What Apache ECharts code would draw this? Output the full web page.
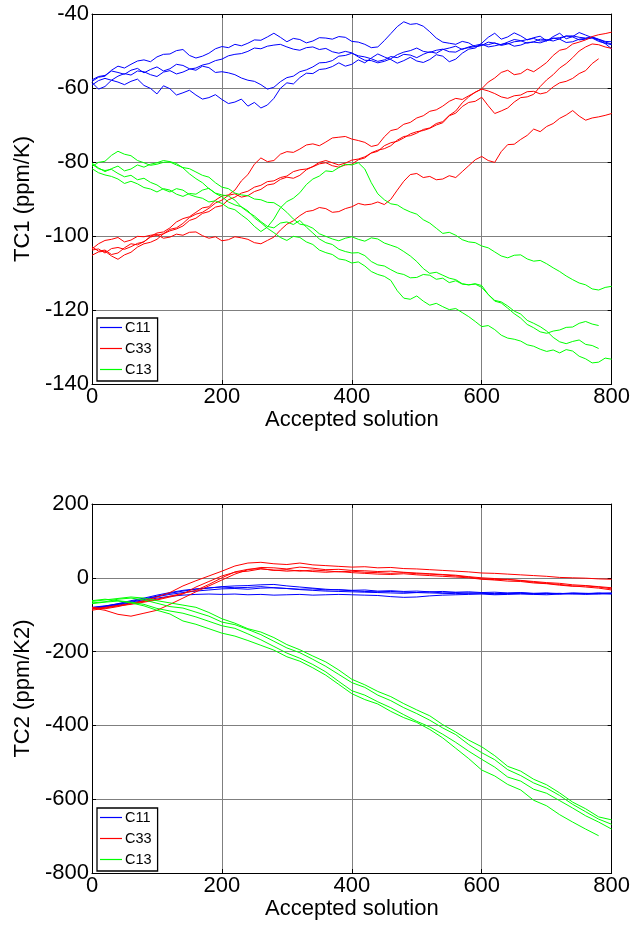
<!DOCTYPE html>
<html><head><meta charset="utf-8">
<script src="https://cdn.jsdelivr.net/npm/echarts@6/dist/echarts.min.js"></script>
<style>html,body{margin:0;padding:0;background:#fff}#c{width:633px;height:926px}</style>
</head><body><div id="c"></div>
<script>
// x positions (accepted solution index)
const xs10 = [0,10,20,30,40,50,60,70,80,90,100,110,120,130,140,150,160,170,180,190,200,210,220,230,240,250,260,270,280,290,300,310,320,330,340,350,360,370,380,390,400,410,420,430,440,450,460,470,480,490,500,510,520,530,540,550,560,570,580,590,600,610,620,630,640,650,660,670,680,690,700,710,720,730,740,750,760,770,780,790,800];
const xs20 = [0,20,40,60,80,100,120,140,160,180,200,220,240,260,280,300,320,340,360,380,400,420,440,460,480,500,520,540,560,580,600,620,640,660,680,700,720,740,760,780,800];
const xTicks = [0,200,400,600,800];
const legendNames = ['C11','C33','C13'];

// Top panel: TC1 (ppm/K), sampled every 10 solutions
const tB1 = [-58.5,-60.3,-59.6,-57.9,-58.4,-59.1,-58.2,-57.6,-59.3,-60.1,-61.6,-59.4,-60.2,-61.9,-61.3,-60.6,-61.9,-63.0,-62.6,-61.8,-63.1,-64.2,-63.8,-63.0,-64.9,-63.9,-65.4,-64.6,-62.8,-60.1,-58.6,-58.9,-57.2,-56.0,-56.1,-55.0,-54.8,-54.2,-53.2,-54.1,-53.6,-52.4,-53.2,-51.9,-50.8,-51.6,-52.3,-53.3,-52.6,-51.7,-52.7,-53.1,-52.3,-51.0,-51.4,-52.9,-52.2,-50.6,-49.5,-49.2,-47.9,-46.3,-45.2,-46.8,-46.2,-45.1,-45.9,-47.0,-46.4,-46.0,-47.3,-46.1,-45.2,-46.7,-46.1,-45.0,-45.7,-46.4,-47.1,-48.0,-49.4];
const tB2 = [-57.8,-56.9,-56.6,-55.4,-55.8,-56.3,-55.2,-54.7,-55.9,-55.0,-54.3,-55.4,-54.8,-53.6,-53.9,-54.8,-55.2,-54.1,-54.5,-55.8,-55.6,-55.9,-56.4,-57.3,-57.9,-58.2,-59.1,-60.3,-59.8,-58.3,-57.2,-56.8,-55.6,-55.1,-54.3,-53.2,-53.1,-52.6,-51.4,-51.2,-50.6,-51.3,-51.6,-52.1,-52.8,-52.4,-51.5,-51.8,-50.9,-51.1,-51.8,-50.9,-50.2,-50.6,-49.6,-49.2,-48.7,-49.6,-48.9,-48.5,-48.1,-48.9,-48.6,-48.2,-47.9,-48.7,-48.4,-47.7,-47.6,-47.8,-47.2,-46.5,-46.8,-47.7,-47.5,-46.8,-46.6,-46.3,-46.9,-47.6,-48.1];
const tB3 = [-58.2,-57.1,-56.8,-55.2,-54.1,-54.6,-53.6,-52.7,-52.4,-52.9,-51.6,-50.9,-50.8,-49.9,-49.6,-51.2,-51.9,-51.4,-50.6,-49.4,-48.8,-49.1,-48.2,-48.6,-47.9,-47.0,-47.1,-46.2,-45.2,-46.3,-47.5,-46.6,-46.9,-47.8,-47.3,-46.4,-46.5,-46.8,-46.1,-46.3,-47.4,-47.6,-48.2,-49.1,-48.9,-47.2,-45.3,-43.4,-42.1,-42.8,-42.6,-43.3,-44.8,-46.5,-47.6,-47.9,-48.2,-47.4,-47.8,-48.9,-48.5,-47.6,-47.9,-48.3,-47.6,-46.9,-47.2,-47.9,-47.5,-46.8,-46.9,-47.3,-46.7,-45.9,-46.2,-47.0,-46.8,-46.5,-47.4,-47.9,-48.3];
const tB4 = [-59.2,-58.0,-57.4,-57.9,-56.8,-56.1,-56.5,-55.4,-55.6,-56.4,-56.9,-55.7,-55.3,-56.2,-55.7,-54.9,-54.6,-53.8,-53.4,-52.6,-52.2,-51.3,-50.9,-50.7,-50.1,-49.2,-49.4,-48.7,-48.4,-48.2,-48.9,-49.5,-49.8,-49.1,-48.9,-49.6,-49.3,-50.2,-50.6,-50.1,-50.5,-51.6,-52.5,-52.6,-53.2,-52.8,-52.1,-51.0,-50.3,-49.9,-49.2,-50.1,-50.4,-49.8,-49.5,-50.2,-50.3,-49.4,-49.1,-48.8,-48.4,-48.3,-47.8,-48.5,-48.1,-47.5,-47.3,-46.9,-46.6,-47.3,-47.2,-46.6,-46.4,-46.0,-45.9,-46.3,-46.5,-46.2,-46.8,-47.4,-47.5];
const tR1 = [-103.5,-102.1,-101.2,-100.9,-100.4,-101.6,-101.1,-100.1,-100.2,-99.8,-99.6,-100.6,-100.3,-99.5,-99.8,-99.0,-98.9,-99.9,-100.6,-100.2,-101.3,-101.0,-100.2,-100.5,-100.9,-101.8,-102.1,-101.2,-100.3,-98.4,-96.8,-95.9,-94.5,-93.4,-93.1,-92.3,-92.6,-93.6,-93.4,-92.6,-92.1,-91.2,-91.6,-91.4,-90.8,-91.5,-90.1,-87.6,-85.2,-83.4,-83.1,-84.2,-83.9,-84.8,-84.6,-83.7,-84.2,-82.6,-81.0,-79.4,-78.5,-79.6,-80.1,-77.2,-75.3,-75.2,-73.9,-72.8,-71.1,-71.8,-70.4,-69.6,-68.2,-67.3,-66.1,-67.6,-68.7,-68.1,-67.8,-67.4,-66.9];
const tR2 = [-103.8,-103.5,-104.6,-103.4,-103.1,-103.6,-102.9,-102.0,-101.6,-100.1,-99.2,-98.9,-97.8,-96.2,-95.3,-94.8,-93.6,-92.4,-92.1,-90.3,-89.2,-88.9,-87.6,-85.1,-83.4,-80.6,-78.9,-79.9,-79.6,-77.9,-77.2,-77.4,-76.5,-75.4,-75.1,-75.6,-74.6,-73.5,-73.3,-73.1,-73.8,-74.2,-74.7,-75.8,-75.4,-73.2,-71.5,-71.1,-69.8,-69.3,-68.1,-67.5,-66.3,-65.9,-64.9,-63.6,-62.8,-63.1,-62.1,-61.2,-60.2,-58.4,-57.3,-55.8,-55.2,-56.4,-56.1,-54.9,-55.6,-54.4,-53.1,-51.2,-49.8,-49.4,-48.1,-47.6,-47.0,-46.1,-45.6,-45.3,-44.9];
const tR3 = [-102.9,-104.1,-103.8,-105.0,-104.6,-103.2,-102.1,-102.4,-101.5,-100.3,-99.8,-99.4,-98.2,-97.8,-96.6,-95.0,-94.1,-93.6,-92.5,-91.1,-90.3,-89.0,-88.6,-89.5,-89.1,-88.0,-87.4,-86.2,-85.9,-84.7,-84.1,-84.4,-83.6,-82.1,-81.2,-80.1,-79.6,-80.2,-80.8,-80.3,-79.5,-79.2,-78.6,-77.6,-77.1,-75.6,-74.8,-74.4,-73.5,-72.4,-71.8,-71.5,-70.9,-70.0,-69.4,-67.5,-66.8,-65.0,-63.9,-63.6,-62.5,-64.8,-66.9,-66.2,-65.4,-63.8,-62.6,-62.4,-61.7,-59.6,-57.8,-56.4,-54.6,-53.4,-51.8,-50.0,-48.9,-48.1,-48.3,-48.9,-49.3];
const tR4 = [-105.2,-104.3,-104.1,-105.4,-106.3,-105.1,-104.4,-103.0,-102.1,-101.7,-100.9,-99.4,-98.6,-98.1,-97.3,-95.8,-95.2,-93.9,-93.4,-92.2,-91.8,-90.2,-89.5,-88.4,-87.9,-86.8,-86.3,-85.3,-85.1,-84.2,-83.8,-82.6,-82.1,-81.9,-81.3,-80.5,-80.2,-81.0,-81.4,-80.8,-80.6,-79.4,-78.9,-77.5,-76.8,-76.4,-75.6,-74.1,-73.1,-72.9,-72.2,-71.2,-70.8,-69.6,-69.1,-67.4,-66.2,-64.0,-62.4,-61.1,-60.3,-60.8,-61.5,-62.4,-62.8,-62.1,-61.9,-61.0,-60.9,-61.6,-61.2,-59.7,-58.6,-58.2,-57.4,-56.1,-55.3,-53.4,-52.1,null,null];
const tG1 = [-81.2,-80.1,-79.8,-78.2,-77.1,-77.9,-78.3,-79.6,-80.2,-80.9,-80.6,-80.1,-80.0,-80.8,-81.5,-81.8,-82.7,-83.6,-84.1,-85.6,-86.8,-87.2,-88.4,-88.9,-89.1,-90.0,-90.2,-90.9,-91.0,-92.1,-93.6,-95.4,-96.8,-97.1,-97.9,-99.4,-100.1,-100.8,-101.3,-100.6,-100.2,-100.9,-101.4,-100.5,-100.8,-101.9,-102.5,-103.1,-104.2,-105.4,-106.9,-108.8,-110.1,-109.8,-110.6,-111.4,-111.8,-112.9,-113.2,-113.0,-113.9,-115.8,-117.6,-118.1,-119.5,-121.0,-122.2,-123.9,-124.8,-125.9,-126.3,-125.7,-125.4,-124.7,-124.6,-123.6,-123.1,-123.8,-124.2,null,null];
const tG2 = [-80.6,-81.8,-82.3,-82.0,-83.1,-84.0,-83.6,-84.8,-84.4,-85.5,-86.2,-87.4,-88.1,-87.2,-87.6,-88.8,-89.4,-89.8,-90.8,-90.5,-91.2,-92.4,-92.9,-94.3,-95.6,-97.4,-98.8,-97.6,-95.4,-92.4,-90.7,-89.8,-88.3,-86.1,-84.6,-83.8,-82.4,-82.6,-81.5,-80.6,-80.8,-80.2,-81.9,-85.6,-88.6,-90.2,-91.3,-91.6,-92.7,-93.5,-94.1,-95.6,-96.5,-97.9,-99.3,-99.0,-99.8,-101.0,-101.6,-101.8,-102.7,-103.2,-104.3,-105.4,-105.9,-105.2,-105.1,-106.2,-106.8,-106.6,-107.5,-108.6,-109.6,-110.8,-111.8,-112.7,-113.2,-114.3,-114.6,-113.9,-113.6];
const tG3 = [-80.3,-81.6,-82.6,-81.8,-81.1,-82.4,-81.9,-80.8,-81.4,-80.6,-80.2,-79.6,-79.9,-80.4,-81.6,-83.2,-84.5,-85.6,-87.2,-88.4,-88.9,-89.2,-90.3,-92.2,-93.5,-94.6,-96.1,-97.4,-97.8,-96.5,-96.2,-96.9,-95.8,-97.6,-99.2,-100.8,-101.8,-102.3,-103.6,-104.2,-104.6,-104.5,-105.3,-106.9,-107.8,-108.1,-109.1,-110.0,-110.4,-111.3,-111.2,-110.4,-110.6,-111.7,-111.4,-112.6,-112.1,-113.0,-113.2,-112.9,-113.4,-115.8,-117.4,-117.8,-118.9,-120.3,-121.1,-122.8,-123.6,-124.5,-125.7,-127.4,-128.6,-129.1,-128.5,-128.1,-129.3,-129.6,-130.4,null,null];
const tG4 = [-81.8,-82.9,-83.5,-83.9,-84.6,-85.8,-85.2,-85.9,-86.9,-87.3,-88.1,-87.2,-87.6,-88.7,-89.3,-88.5,-88.7,-87.6,-87.1,-88.5,-89.4,-90.8,-91.6,-92.1,-93.2,-95.1,-96.4,-97.9,-99.1,-100.4,-101.2,-100.1,-100.4,-101.6,-102.3,-103.8,-104.5,-105.0,-106.2,-106.5,-107.3,-107.0,-108.1,-109.6,-110.4,-110.9,-112.0,-114.8,-116.8,-117.1,-116.2,-117.6,-118.7,-118.2,-119.1,-119.9,-119.6,-120.7,-121.8,-123.1,-124.5,-124.2,-125.3,-126.8,-127.6,-127.9,-128.4,-129.4,-129.8,-130.6,-131.2,-130.8,-131.6,-130.7,-131.1,-132.5,-133.2,-134.3,-134.1,-133.0,-133.3];

// Bottom panel: TC2 (ppm/K2), sampled every 20 solutions
const bB1 = [-80,-76,-71,-64,-57,-50,-42,-36,-31,-28,-24,-22,-21,-19,-18,-22,-25,-28,-31,-33,-35,-37,-38,-37,-39,-40,-38,-41,-40,-42,-41,-43,-42,-41,-43,-42,-44,-42,-43,-41,-42];
const bB2 = [-83,-78,-72,-66,-59,-51,-45,-40,-36,-33,-30,-29,-31,-28,-27,-29,-31,-30,-33,-32,-34,-33,-36,-35,-37,-36,-38,-37,-39,-38,-40,-39,-41,-40,-42,-41,-43,-41,-42,-43,-41];
const bB3 = [-84,-79,-74,-68,-62,-55,-50,-47,-45,-44,-45,-44,-46,-45,-47,-46,-45,-47,-46,-45,-46,-47,-48,-51,-53,-52,-49,-47,-46,-45,-44,-46,-45,-44,-45,-46,-44,-43,-45,-44,-43];
const bB4 = [-81,-77,-70,-62,-55,-47,-40,-34,-30,-27,-25,-27,-26,-24,-27,-29,-32,-34,-36,-37,-38,-39,-40,-41,-42,-40,-41,-42,-43,-41,-42,-44,-43,-42,-44,-43,-42,-44,-43,-42,-44];
const bR1 = [-80,-84,-78,-70,-62,-52,-40,-22,-8,5,18,32,40,42,38,36,40,35,33,31,29,30,27,28,25,24,22,20,18,16,13,12,10,8,6,4,1,0,-1,-3,-4];
const bR2 = [-82,-88,-99,-104,-96,-88,-72,-55,-38,-22,-6,10,22,28,27,24,29,26,22,23,20,19,17,18,15,13,11,9,7,3,0,-2,-5,-7,-10,-13,-15,-19,-21,-24,-27];
const bR3 = [-85,-80,-75,-70,-64,-58,-50,-42,-34,-18,0,16,23,25,20,22,18,21,19,16,18,15,14,12,14,11,10,8,5,2,-3,-5,-4,-8,-12,-15,-18,-22,-25,-28,-33];
const bR4 = [-88,-82,-76,-72,-66,-60,-52,-44,-25,-10,5,15,18,24,21,18,20,17,15,17,14,12,10,9,11,8,6,4,2,0,-4,-6,-9,-10,-14,-16,-20,-23,-22,-25,-30];
const bG1 = [-64,-60,-56,-52,-55,-62,-68,-74,-80,-94,-111,-123,-138,-147,-162,-181,-195,-212,-228,-250,-275,-290,-308,-322,-341,-358,-374,-398,-418,-440,-458,-482,-511,-524,-546,-561,-583,-608,-626,-648,-656];
const bG2 = [-68,-65,-58,-55,-60,-69,-78,-82,-93,-104,-120,-127,-140,-154,-172,-190,-203,-221,-240,-262,-284,-297,-318,-333,-352,-368,-386,-407,-425,-452,-474,-493,-520,-536,-556,-570,-590,-614,-634,-654,-668];
const bG3 = [-62,-58,-62,-66,-72,-83,-90,-96,-106,-118,-130,-137,-152,-168,-186,-204,-218,-235,-255,-281,-306,-318,-336,-352,-371,-389,-404,-424,-446,-470,-492,-513,-540,-551,-573,-584,-604,-624,-645,-662,-681];
const bG4 = [-70,-66,-63,-68,-76,-88,-98,-117,-126,-138,-150,-158,-170,-183,-196,-214,-226,-244,-264,-289,-314,-330,-342,-362,-379,-392,-411,-434,-462,-490,-521,-537,-560,-575,-603,-618,-642,-662,-681,-699,null];

const FONT = "'Liberation Sans', Arial, Helvetica, sans-serif";
const COLORS = {C11:'#0000ff', C33:'#ff0000', C13:'#00ff00'};

function mk(name, runs, xv, gi) {
  return runs.map(vals => ({
    name, type:'line', xAxisIndex:gi, yAxisIndex:gi,
    data: vals.map((v,i)=>[xv[i], v]).filter(p=>p[1]!==null),
    symbol:'none', showSymbol:false, silent:true,
    lineStyle:{width:1, color:COLORS[name]}, itemStyle:{color:COLORS[name]}
  }));
}

const series = [].concat(
  mk('C11',[tB1,tB2,tB3,tB4],xs10,0), mk('C33',[tR1,tR2,tR3,tR4],xs10,0), mk('C13',[tG1,tG2,tG3,tG4],xs10,0),
  mk('C11',[bB1,bB2,bB3,bB4],xs20,1), mk('C33',[bR1,bR2,bR3,bR4],xs20,1), mk('C13',[bG1,bG2,bG3,bG4],xs20,1)
);

function xAx(gi, pos, labels, name) {
  return {type:'value', gridIndex:gi, position:pos, min:xTicks[0], max:xTicks[xTicks.length-1], interval:200,
    name: name || '', nameLocation:'middle', nameGap:21,
    nameTextStyle:{fontFamily:FONT, fontSize:22, color:'#000'},
    axisLine:{show:true, onZero:false, lineStyle:{color:'#000', width:1}},
    axisTick:{show:true, inside:true, length:4, lineStyle:{color:'#000'}},
    axisLabel:{show:labels, fontFamily:FONT, fontSize:22, color:'#000', margin:2},
    splitLine:{show:labels, lineStyle:{color:'#7f7f7f', width:1}}};
}
function yAx(gi, pos, labels, mn, mx, itv, name) {
  return {type:'value', gridIndex:gi, position:pos, min:mn, max:mx, interval:itv,
    name: name || '', nameLocation:'middle', nameGap:56, nameRotate:90,
    nameTextStyle:{fontFamily:FONT, fontSize:22, color:'#000'},
    axisLine:{show:true, onZero:false, lineStyle:{color:'#000', width:1}},
    axisTick:{show:true, inside:true, length:4, lineStyle:{color:'#000'}},
    axisLabel:{show:labels, fontFamily:FONT, fontSize:22, color:'#000', margin:3},
    splitLine:{show:labels, lineStyle:{color:'#7f7f7f', width:1}}};
}
function leg(top) {
  return {data:legendNames, orient:'vertical', left:97, top:top, icon:'rect', itemWidth:22, itemHeight:1.2,
    itemGap:6, padding:[2,6,4,3], borderColor:'#000', borderWidth:1.3, backgroundColor:'#fff',
    selectedMode:false, textStyle:{fontFamily:FONT, fontSize:14.5, color:'#000', lineHeight:15, padding:[0,0,0,-2]}};
}

const chart = echarts.init(document.getElementById('c'), null, {renderer:'canvas'});
chart.setOption({
  animation:false,
  backgroundColor:'#fff',
  grid:[{left:92, top:14, width:520, height:370}, {left:92, top:504, width:520, height:369}],
  xAxis:[xAx(0,'bottom',true,'Accepted solution'), xAx(1,'bottom',true,'Accepted solution'), xAx(0,'top',false), xAx(1,'top',false)],
  yAxis:[yAx(0,'left',true,-140,-40,20,'TC1 (ppm/K)'), yAx(1,'left',true,-800,200,200,'TC2 (ppm/K2)'),
         yAx(0,'right',false,-140,-40,20), yAx(1,'right',false,-800,200,200)],
  legend:[leg(318), leg(808)],
  series: series
});
</script></body></html>
